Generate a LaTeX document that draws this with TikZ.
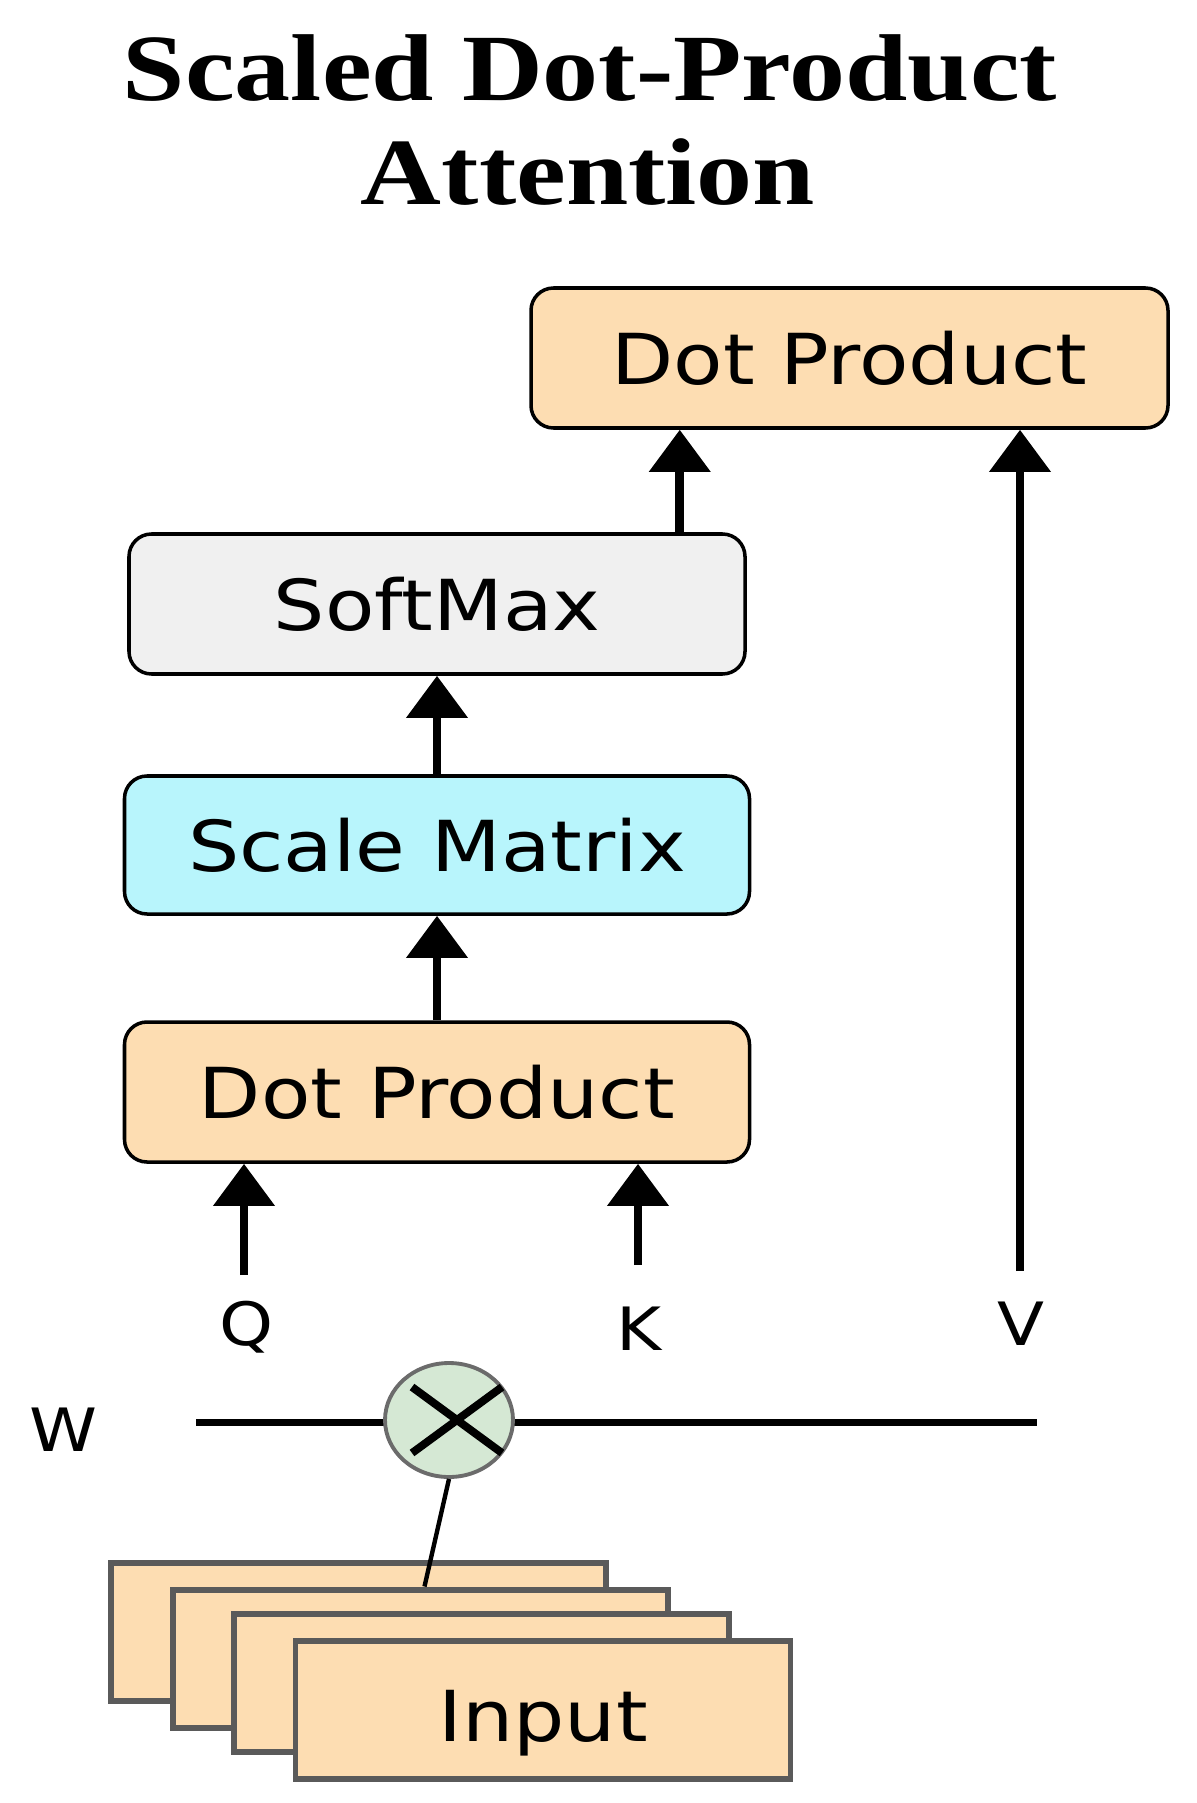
\documentclass[tikz,border=0pt]{standalone}
\usepackage{fontspec}
\usepackage{tikz}
\usetikzlibrary{arrows.meta,shapes.geometric}
\newfontfamily\titlefont[FakeStretch=1.18]{Liberation Serif}
\newfontfamily\boxfont[FakeStretch=1.15]{DejaVu Sans}
\definecolor{peach}{RGB}{253, 221, 178}
\definecolor{cloud}{RGB}{240, 240, 240}
\definecolor{aqua}{RGB}{184, 245, 252}
\definecolor{mint}{RGB}{213, 232, 212}
\definecolor{ash}{RGB}{90, 90, 90}
\tikzset{
  block/.style={draw, line width=2pt, rounded corners=0.45cm,
                minimum width=12.50cm, minimum height=2.80cm,
                font=\boxfont\fontsize{40}{48}\selectfont},
  sheet/.style={draw=ash, fill=peach, line width=3.4pt,
                minimum width=9.90cm, minimum height=2.76cm},
  letter/.style={anchor=base, font=\boxfont\fontsize{34}{40}\selectfont},
  flow/.style={line width=5pt, -{Triangle[width=34pt, length=24pt]}}
}

\begin{document}
\begin{tikzpicture}
            \useasboundingbox (0.00, 0.00) rectangle (23.92,-36.06);
            % Title
            \node[anchor=base, font=\titlefont\bfseries\fontsize{54}{60}\selectfont] (title1) at (11.80,-2.02) {Scaled Dot-Product};
            \node[anchor=base, font=\titlefont\bfseries\fontsize{54}{60}\selectfont] (title2) at (11.76,-4.10) {Attention};
            % Blocks
            \node[block, fill=peach, minimum width=12.74cm] (dptop)   at (16.99, -7.16) {Dot Product};
            \node[block, fill=cloud, minimum width=12.32cm] (softmax) at ( 8.74,-12.08) {SoftMax};
            \node[block, fill=aqua,  minimum height=2.76cm] (scale)   at ( 8.74,-16.90) {Scale Matrix};
            \node[block, fill=peach]                        (dpbot)   at ( 8.74,-21.84) {Dot Product};
            % Arrows between blocks
            \draw[flow] (dpbot.north) -- (scale.south);
            \draw[flow] (scale.north) -- (softmax.south);
            \draw[flow] ([xshift=-1.34cm]softmax.north east) -- ([xshift=-1.34cm]softmax.north east |- dptop.south);
            % Q, K, V
            \coordinate (qtail) at ( 4.88,-25.50);
            \coordinate (ktail) at (12.76,-25.30);
            \coordinate (vtail) at (20.40,-25.42);
            \draw[flow] (qtail) -- (qtail |- dpbot.south);
            \draw[flow] (ktail) -- (ktail |- dpbot.south);
            \draw[flow] (vtail) -- (vtail |- dptop.south);
            \node[letter] (qlabel) at ( 4.94,-26.90) {Q};
            \node[letter] (klabel) at (12.78,-27.00) {K};
            \node[letter] (vlabel) at (20.42,-26.90) {V};
            % Weight line & product
            \node[letter] (wlabel) at ( 1.26,-29.02) {W};
            \coordinate (wleft)  at ( 3.92,-28.44);
            \coordinate (wright) at (20.74,-28.44);
            \draw[line width=4pt] (wleft) -- (wright);
            \node[ellipse, draw=ash!90, fill=mint, line width=2.2pt,
                  minimum width=2.56cm, minimum height=2.28cm] (mul) at ( 8.98,-28.40) {};
            \draw[line width=4.5pt] ([shift={(-0.74, 0.66)}]mul.center) -- ([shift={( 1.06,-0.66)}]mul.center);
            \draw[line width=4.5pt] ([shift={( 1.06, 0.66)}]mul.center) -- ([shift={(-0.74,-0.66)}]mul.center);
            % Input sheets
            \node[sheet]  (in1) at ( 7.17,-32.63) {};
            \node[sheet]  (in2) at ( 8.41,-33.17) {};
            \draw[line width=2.5pt] (mul.south) -- ([xshift=0.08cm]in2.north);
            \node[sheet]  (in3) at ( 9.63,-33.66) {};
            \node[sheet]  (in4) at (10.86,-34.19) {};
            \node[font=\boxfont\fontsize{40}{48}\selectfont] (intext) at ([yshift=-0.28cm]in4.center) {Input};
        \end{tikzpicture}
\end{document}
